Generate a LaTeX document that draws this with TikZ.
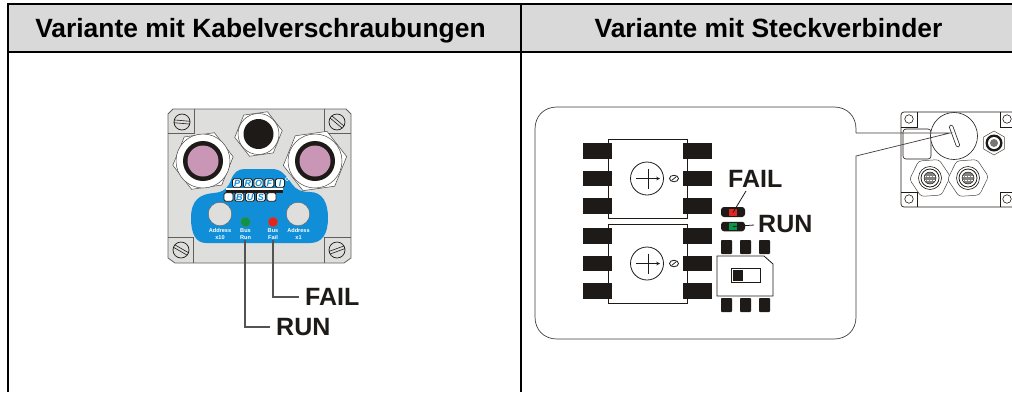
\documentclass[tikz,border=0pt]{standalone}
\usepackage{fontspec}
\setmainfont{Liberation Sans}
\usetikzlibrary{shapes.geometric,calc}
\definecolor{hdr}{HTML}{D9D9D9}
\definecolor{housing}{HTML}{DEDEDC}
\definecolor{panel}{HTML}{108ED8}
\definecolor{glandpink}{HTML}{C997B5}
\definecolor{ledgreen}{HTML}{0A9648}
\definecolor{ledred}{HTML}{E0261E}
\definecolor{ink}{HTML}{1D1A18}
\definecolor{wire}{HTML}{555351}
\tikzset{
  rule/.style={line width=2pt,black},
  headtext/.style={font=\fontsize{26.4}{28}\selectfont\bfseries,text=black,inner sep=0pt,anchor=base},
  bigtag/.style={font=\fontsize{25}{25}\selectfont\bfseries,text=ink,inner sep=0pt},
  tiny/.style={font=\fontsize{5.6}{6.4}\selectfont\bfseries,text=white,align=center,inner sep=0pt},
  hexa/.style={regular polygon,regular polygon sides=6,draw=ink!80,line width=.5pt,fill=white,inner sep=0pt,minimum size=#1},
  disc/.style={circle,inner sep=0pt,minimum size=#1},
  logobox/.style={draw=ink,line width=.9pt,fill=white,rounded corners=1.5pt,minimum width=9pt,minimum height=8.5pt,inner sep=0pt,text=panel,font=\fontsize{9}{9}\selectfont\bfseries\itshape},
  padbig/.style={fill=ink,draw=none,minimum width=29pt,minimum height=15.5pt,inner sep=0pt},
  padsmall/.style={fill=ink,draw=none,rounded corners=.8pt,minimum width=11pt,minimum height=14pt,inner sep=0pt},
  chip/.style={draw=ink,line width=.8pt,fill=white,minimum width=79pt,minimum height=79pt,inner sep=0pt},
  bolt/.style={draw=ink,line width=.7pt,fill=housing,circle,minimum size=16pt,inner sep=0pt},
  hole/.style={draw=ink,line width=.6pt,fill=white,circle,minimum size=8.5pt,inner sep=0pt},
  leader/.style={draw=wire,line width=1.3pt},
  thin/.style={draw=ink,line width=.6pt},
}
\newcommand{\slotbolt}[3]{% name, position, angle
  \node[bolt] (#1) at (#2) {};
  \begin{scope}[shift={(#2)},rotate=#3]
    \draw[thin] (-8,-1.4) -- (8,-1.4) (-8,1.4) -- (8,1.4);
  \end{scope}}
\newcommand{\gland}[3]{% name, position, hex size
  \node[hexa=#3,rotate=8] (#1hex) at (#2) {};
  \node[disc=54pt,draw=ink!80,line width=.5pt,fill=white] (#1w) at (#2) {};
  \node[disc=40pt,fill=ink] (#1b) at (#2) {};
  \node[disc=31pt,fill=glandpink] (#1p) at (#2) {};}
\newcommand{\chipset}[2]{% name, centre y
  \node[chip] (#1) at (647.5,#2) {};
  \node[padbig] (#1l1) at (597.5,#2-27.5) {};
  \node[padbig] (#1l2) at (597.5,#2) {};
  \node[padbig] (#1l3) at (597.5,#2+27.5) {};
  \node[padbig] (#1r1) at (697.5,#2-27.5) {};
  \node[padbig] (#1r2) at (697.5,#2) {};
  \node[padbig] (#1r3) at (697.5,#2+27.5) {};
  \node[disc=33pt,draw=ink,line width=.8pt,fill=white] (#1dial) at (647,#2) {};
  \draw[ink,line width=.7pt,->,>=stealth] (636,#2) -- (660,#2);
  \draw[ink,line width=.7pt] (648,#2-10) -- (648,#2+10);
  \node[ellipse,draw=ink,line width=.8pt,minimum width=9pt,minimum height=6.5pt,inner sep=0pt] (#1trim) at (674,#2) {};
  \draw[ink,line width=.7pt] (671.5,#2+2) -- (676.5,#2-2);}
\newcommand{\mtwelve}[2]{% name, position
  \node[hexa=41pt,rotate=4,rounded corners=3pt] (#1hex) at (#2) {};
  \node[disc=23pt,draw=ink,line width=.6pt,fill=white] (#1a) at (#2) {};
  \node[disc=18pt,draw=ink,line width=.8pt,fill=white] (#1b) at (#2) {};
  \node[disc=12pt,fill=ink!55,draw=ink,line width=.5pt] (#1c) at (#2) {};
  \draw[white,line width=.5pt,densely dotted] ($(#2)+(-5,-2)$) -- ($(#2)+(5,-2)$) ($(#2)+(-5,2)$) -- ($(#2)+(5,2)$);}
\begin{document}
\begin{tikzpicture}[x=1pt,y=-1pt]
\useasboundingbox (0,0) rectangle (1012,392);
% --- table ---
\fill[hdr] (8,4) rectangle (1012,51.5);
\draw[rule] (7,4) -- (1012,4);
\draw[rule] (7,51.5) -- (1012,51.5);
\draw[rule] (8,3) -- (8,392);
\draw[rule] (521,3) -- (521,392);
\node[headtext] (headleft) at (260.5,37.5) {Variante mit Kabelverschraubungen};
\node[headtext] (headright) at (768.5,37.5) {Variante mit Steckverbinder};
% --- left housing ---
\draw[fill=housing,draw=ink!70,line width=.8pt] (173,109) -- (346,109) -- (351,114) -- (351,258) -- (344,263) -- (175,263) -- (168,258) -- (168,114) -- cycle;
\draw[ink!70,line width=.6pt] (168,133) -- (194,133) -- (194,109) (351,133) -- (324,133) -- (324,109)
  (168,237) -- (193,237) -- (193,263) (351,237) -- (324,237) -- (324,263);
\slotbolt{bolttl}{182,122}{-5}
\slotbolt{bolttr}{337,122}{-40}
\slotbolt{boltbl}{181,250}{-30}
\slotbolt{boltbr}{337,250}{20}
% glands
\node[hexa=48pt,rotate=8] (tophex) at (258.5,134) {};
\node[disc=41pt,draw=ink!80,line width=.5pt,fill=white] (topw) at (258.5,134) {};
\node[disc=30pt,fill=ink] (topb) at (258.5,134) {};
\gland{leftg}{203,161}{61pt}
\gland{rightg}{315,161}{64pt}
% blue panel
\fill[panel] (191,218) .. controls (191,200) and (200,194) .. (214,193)
  .. controls (224,192) and (228,188) .. (231,180)
  .. controls (234,172) and (238,169) .. (245,169) -- (272,169)
  .. controls (282,169) and (286,176) .. (292,184)
  .. controls (296,190) and (302,192) .. (310,192)
  .. controls (322,192) and (328,202) .. (328,218)
  .. controls (328,234) and (322,243) .. (310,243) -- (206,243)
  .. controls (196,243) and (191,234) .. (191,218) -- cycle;
\node[disc=23.5pt,fill=housing,draw=ink!70,line width=.4pt] (addrten) at (220,214) {};
\node[disc=23.5pt,fill=housing,draw=ink!70,line width=.4pt] (addrone) at (298,214) {};
\node[disc=10pt,fill=ledgreen,draw=ink!60,line width=.3pt] (ledrun) at (245.5,222) {};
\node[disc=10pt,fill=ledred,draw=ink!60,line width=.3pt] (ledfail) at (273,222) {};
\node[tiny] (txtaddrten) at (220,234) {Address\\x10};
\node[tiny] (txtrun) at (245.5,234) {Bus\\Run};
\node[tiny] (txtfail) at (273,234) {Bus\\Fail};
\node[tiny] (txtaddrone) at (298.5,234) {Address\\x1};
% profibus logo
\foreach \n/\l/\x in {p/P/237,r/R/247.8,o/O/258.5,f/F/269.3,i/I/280}{
  \node[logobox] (logo\n) at (\x,183) {\l};}
\fill[ink] (226,188.5) rectangle (283,192.5);
\fill[white] (226,187.5) rectangle (283,190);
\foreach \n/\l/\x in {a//228.5,b/B/239.3,u/U/250,s/S/260.8,e//271.5}{
  \node[logobox] (logotwo\n) at (\x,197) {\l};}
\node[circle,draw=white,line width=.5pt,inner sep=0pt,minimum size=3.5pt] (logoreg) at (287,179) {};
% tags and wires
\node[bigtag,anchor=west] (failtag) at (305,297) {FAIL};
\node[bigtag,anchor=west] (runtag) at (276,327) {RUN};
\coordinate (runstart) at (245,240);
\coordinate (failstart) at (273,240);
\coordinate (runend) at (270,327);
\coordinate (failend) at (299,297);
\draw[leader] (runstart) |- (runend);
\draw[leader] (failstart) |- (failend);
% --- right device ---
\draw[ink,line width=.7pt,rounded corners=3pt] (1012,112) -- (901,112) -- (901,207) -- (1012,207);
\draw[ink,line width=.6pt] (901,127) -- (917,127) -- (917,112) (1012,127) -- (1000,127) -- (1000,112)
  (901,192) -- (917,192) -- (917,207) (1012,192) -- (1000,192) -- (1000,207);
\node[hole] (holetl) at (909,119) {};
\node[hole] (holetr) at (1007,119) {};
\node[hole] (holebl) at (909,199) {};
\node[hole] (holebr) at (1007,199) {};
\draw[ink,line width=.6pt,rounded corners=3pt,fill=white] (903,129) rectangle (931,159);
\node[disc=47pt,draw=ink,line width=.6pt,fill=white] (cap) at (954,136) {};
\draw[ink,line width=.6pt,fill=white,rounded corners=1.5pt,rotate around={20:(954.5,136)}] (952.7,124.5) rectangle (956.3,147.5);
\mtwelve{portl}{930,178}
\mtwelve{portr}{968,178}
\node[hexa=24pt,rotate=30] (minihex) at (994,143) {};
\node[disc=17pt,fill=ink] (minib) at (994,143) {};
\node[disc=12pt,fill=white] (miniw) at (994,143) {};
\node[disc=8pt,fill=ink!60] (minic) at (994,143) {};
% --- balloon ---
\coordinate (tailtop) at (950,133);
\draw[ink!85,line width=.7pt] (856,133) -- (856,129) .. controls (856,116) and (847,107) .. (834,107) -- (557,107)
  .. controls (544,107) and (535,116) .. (535,129) -- (535,317)
  .. controls (535,330) and (544,339) .. (557,339) -- (834,339)
  .. controls (847,339) and (856,330) .. (856,317) -- (856,156) -- (tailtop) -- (856,133);
% chips
\chipset{chipa}{178.5}
\chipset{chipb}{263.5}
% LEDs
\node[fill=ink,rounded corners=3pt,minimum width=24pt,minimum height=10pt,inner sep=0pt] (ledbodyf) at (733,212) {};
\node[fill=ink,rounded corners=3pt,minimum width=24pt,minimum height=9.5pt,inner sep=0pt] (ledbodyr) at (733,226.5) {};
\node[fill=ledred,minimum width=8.5pt,minimum height=7pt,inner sep=0pt] (ledsqf) at (733,212.5) {};
\node[fill=ledgreen,minimum width=8.5pt,minimum height=7pt,inner sep=0pt] (ledsqr) at (733,226.5) {};
\node[bigtag,anchor=west] (failtagb) at (728,179) {FAIL};
\node[bigtag,anchor=west] (runtagb) at (758,224) {RUN};
\coordinate (faillead) at (746,191);
\coordinate (runlead) at (754,225);
\draw[ink,line width=.8pt] (faillead) -- (ledsqf.center);
\draw[ink,line width=.8pt] (ledsqr.center) -- (runlead);
% dip switch
\foreach \n/\x in {a/726.5,b/745.5,c/764.5}{
  \node[padsmall] (dipt\n) at (\x,247) {};
  \node[padsmall] (dipb\n) at (\x,305) {};}
\draw[ink,line width=.8pt,fill=white] (717,256) -- (764,256) -- (773,264) -- (773,296) -- (717,296) -- cycle;
\draw[ink,line width=.8pt,fill=white] (731,268.5) rectangle (760,282);
\fill[ink] (733,270) rectangle (743,281);
\end{tikzpicture}
\end{document}
